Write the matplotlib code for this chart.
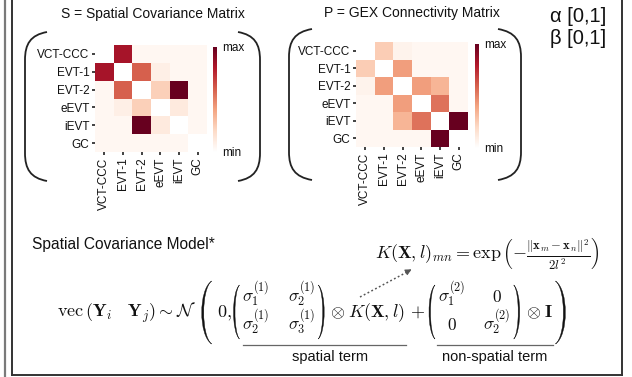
import numpy as np
import matplotlib
matplotlib.use("Agg")
import matplotlib.pyplot as plt
from matplotlib.colors import LinearSegmentedColormap
from matplotlib.path import Path
from matplotlib.patches import PathPatch

plt.rcParams['font.family'] = ['Liberation Sans', 'DejaVu Sans']
plt.rcParams['mathtext.fontset'] = 'cm'

# ---------------- data ----------------
cell_types = ["VCT-CCC", "EVT-1", "EVT-2", "eEVT", "iEVT", "GC"]
N = None
S_rows = [
    [N,    0.83, 0.05, 0.05, 0.05, 0.05],
    [0.83, N,    0.60, 0.09, 0.05, 0.05],
    [0.05, 0.60, N,    0.24, 1.00, 0.05],
    [0.05, 0.09, 0.24, N,    0.12, 0.05],
    [0.05, 0.05, 1.00, 0.12, N,    0.05],
    [0.05, 0.05, 0.05, 0.05, 0.05, N],
]
P_rows = [
    [N,    0.25, 0.07, 0.05, 0.05, 0.05],
    [0.25, N,    0.42, 0.05, 0.05, 0.05],
    [0.07, 0.42, N,    0.42, 0.34, 0.05],
    [0.05, 0.05, 0.42, N,    0.55, 0.05],
    [0.05, 0.05, 0.34, 0.55, N,    1.00],
    [0.05, 0.05, 0.05, 0.05, 1.00, N],
]
titles = ["S = Spatial Covariance Matrix", "P = GEX Connectivity Matrix"]
cbar_labels = ["max", "min"]
params = ["α [0,1]", "β [0,1]"]
model_title = "Spatial Covariance Model*"
term_labels = ["spatial term", "non-spatial term"]
spatial_cov = [[r"\sigma_1^{(1)}", r"\sigma_2^{(1)}"], [r"\sigma_2^{(1)}", r"\sigma_3^{(1)}"]]
nonspatial_cov = [[r"\sigma_1^{(2)}", "0"], ["0", r"\sigma_2^{(2)}"]]

W, H = 632, 377
fig = plt.figure(figsize=(W / 100, H / 100), dpi=100)
bg = fig.add_axes([0, 0, 1, 1])
bg.set_xlim(0, W)
bg.set_ylim(H, 0)
bg.axis('off')
renderer = fig.canvas.get_renderer()
INK = "#111111"

def rect(x0, y0, x1, y1):
    return [x0 / W, 1 - y1 / H, (x1 - x0) / W, (y1 - y0) / H]

cmap = LinearSegmentedColormap.from_list(
    "rdhalf", ["#ffffff", "#fddbc7", "#f4a582", "#d6604d", "#b2182b", "#67001f"])

# ---------------- frame lines ----------------
bg.plot([4.5, 4.5], [0, 376], color="#7a7a7a", lw=1.6)
bg.plot([11.5, 11.5], [0, 375], color="#333333", lw=1.4)
bg.plot([11.5, 622], [375, 375], color="#333333", lw=1.4)
bg.plot([622, 622], [0, 375], color="#333333", lw=1.4)

def bracket(xe, xo, y0, y1):
    verts = [(xe, y0), (xo + (xe - xo) * 0.25, y0 + 3), (xo, y0 + 12), (xo, y0 + 28),
             (xo, y1 - 28),
             (xo, y1 - 12), (xo + (xe - xo) * 0.25, y1 - 3), (xe, y1)]
    codes = [Path.MOVETO, Path.CURVE4, Path.CURVE4, Path.CURVE4,
             Path.LINETO,
             Path.CURVE4, Path.CURVE4, Path.CURVE4]
    bg.add_patch(PathPatch(Path(verts, codes), fill=False, lw=1.3, ec="#222222"))

def heatmap(values, box, cbox, brackets, title, title_xy):
    data = np.array([[np.nan if v is None else v for v in r] for r in values], dtype=float)
    ax = fig.add_axes(rect(*box))
    ax.pcolormesh(np.ma.masked_invalid(data), cmap=cmap, vmin=0, vmax=1,
                  edgecolors="none", linewidth=0)
    ax.set_xlim(0, len(cell_types))
    ax.set_ylim(len(cell_types), 0)
    ticks = np.arange(len(cell_types)) + 0.5
    ax.set_xticks(ticks)
    ax.set_yticks(ticks)
    ax.set_xticklabels(cell_types, rotation=90)
    ax.set_yticklabels(cell_types)
    for s in ax.spines.values():
        s.set_visible(False)
    ax.tick_params(length=2, width=1.3, color="#333333", labelsize=8.5, pad=2,
                   labelcolor=INK)
    cax = fig.add_axes(rect(*cbox))
    cax.imshow(np.linspace(1, 0, 256)[:, None], aspect="auto", cmap=cmap, vmin=0, vmax=1)
    cax.axis('off')
    bg.text(cbox[2] + 5, cbox[1] + 1, cbar_labels[0], fontsize=8.5, ha="left", va="center",
            color=INK)
    bg.text(cbox[2] + 5, cbox[3] + 1, cbar_labels[1], fontsize=8.5, ha="left", va="center",
            color=INK)
    bl, br = brackets
    bracket(*bl)
    bracket(*br)
    bg.text(title_xy[0], title_xy[1], title, fontsize=10, ha="center", va="center",
            color=INK)

heatmap(S_rows, (95, 45, 207, 152), (213, 47, 217, 152),
        ((47, 25, 32, 181), (238, 260, 32, 181)), titles[0], (153, 14))
heatmap(P_rows, (356, 42, 468, 147), (475, 44, 479, 148),
        ((312, 289, 29, 180), (498, 521, 29, 180)), titles[1], (412, 13))

bg.text(550, 17, params[0], fontsize=14.5, ha="left", va="center", color=INK)
bg.text(550, 38, params[1], fontsize=14.5, ha="left", va="center", color=INK)

# ---------------- model ----------------
bg.text(32, 245, model_title, fontsize=11.2, ha="left", va="center", color=INK)

kform = r"$K(\mathbf{X},l)_{mn}=\exp\left(-\frac{\|\mathbf{x}_m-\mathbf{x}_n\|^2}{2l^2}\right)$"
bg.text(375, 253, kform, fontsize=13, ha="left", va="center", color=INK)

FS = 13
YB = 317

def put(x, s, yb=YB, ha="left", fs=FS):
    t = bg.text(x, yb, s, fontsize=fs, ha=ha, va="baseline", color=INK)
    return t, t.get_window_extent(renderer).width

def paren(x0, x1, y0, y1, side, thick):
    h = y1 - y0
    k = 0.13
    if side == "l":
        tip, belly, inner = x1, x0, x0 + thick
    else:
        tip, belly, inner = x0, x1, x1 - thick
    c_out = (belly - 0.25 * tip) / 0.75
    c_in = (inner - 0.25 * tip) / 0.75
    verts = [(tip, y0), (c_out, y0 + h * k), (c_out, y1 - h * k), (tip, y1),
             (c_in, y1 - h * k), (c_in, y0 + h * k), (tip, y0), (tip, y0)]
    codes = [Path.MOVETO, Path.CURVE4, Path.CURVE4, Path.CURVE4,
             Path.CURVE4, Path.CURVE4, Path.CURVE4, Path.CLOSEPOLY]
    bg.add_patch(PathPatch(Path(verts, codes), fc=INK, ec=INK, lw=0.3))

def matrix(x, entries):
    paren(x, x + 6, 285, 339, "l", 1.5)
    x += 6 + 3
    rows_b = [302, 330]
    ncol = len(entries[0])
    for j in range(ncol):
        ts = []
        wmax = 0
        for i in range(len(entries)):
            t, w = put(x, "$" + entries[i][j] + "$", yb=rows_b[i], ha="center", fs=12.5)
            ts.append(t)
            wmax = max(wmax, w)
        for t in ts:
            t.set_x(x + wmax / 2)
        x += wmax + (18 if j < ncol - 1 else 3)
    paren(x, x + 6, 285, 339, "r", 1.5)
    return x + 6

x = 57
t, w = put(x, r"$\mathrm{vec}\,\left(\mathbf{Y}_i\quad\mathbf{Y}_j\right)\sim\mathcal{N}$")
x += w + 6
paren(x, x + 10, 281, 344, "l", 2.0)
x += 10 + 5
t, w = put(x, r"$\mathbf{0},$")
x += w + 2
x = matrix(x, spatial_cov)
x += 6
t, w = put(x, r"$\otimes$")
x += w + 3
t, w = put(x, r"$K(\mathbf{X},l)$")
x += w + 5
t, w = put(x, r"$+$")
x += w + 4
x = matrix(x, nonspatial_cov)
x += 6
t, w = put(x, r"$\otimes$")
x += w + 3
t, w = put(x, r"$\mathbf{I}$")
x += w + 3
paren(x, x + 10, 281, 344, "r", 2.0)

# dotted arrow
bg.plot([360, 410], [297, 270.5], ls=(0, (1.2, 1.6)), color="#555555", lw=1.1)
bg.annotate("", xy=(414, 268), xytext=(407, 271.8),
            arrowprops=dict(arrowstyle="-|>", color="#555555", lw=0.8,
                            mutation_scale=9))

# underlines and labels
bg.plot([243, 406], [345, 345], color="#666666", lw=0.9)
bg.plot([437, 553], [345, 345], color="#666666", lw=0.9)
bg.text(330, 357, term_labels[0], fontsize=10.5, ha="center", va="center", color=INK)
bg.text(495, 357, term_labels[1], fontsize=10.5, ha="center", va="center", color=INK)

fig.savefig("out.png", dpi=100)
